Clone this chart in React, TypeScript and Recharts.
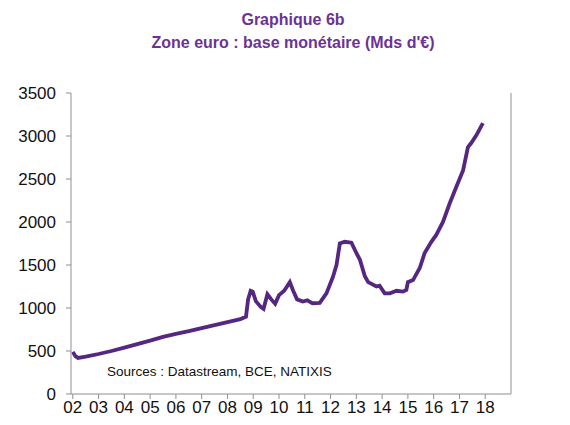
import { LineChart, Line, XAxis, YAxis } from 'recharts'

// decimal years and monetary base (Mds d'€)
const years = [
  2002.0, 2002.1, 2002.2, 2002.5, 2003.0, 2003.5, 2004.0, 2004.5, 2005.0, 2005.5,
  2006.0, 2006.5, 2007.0, 2007.5, 2008.0, 2008.5, 2008.72, 2008.8, 2008.9, 2008.98,
  2009.1, 2009.3, 2009.4, 2009.55, 2009.7, 2009.85, 2010.0, 2010.2, 2010.42, 2010.55,
  2010.7, 2010.93, 2011.1, 2011.3, 2011.58, 2011.84, 2012.09, 2012.23, 2012.36, 2012.55,
  2012.81, 2013.0, 2013.14, 2013.33, 2013.46, 2013.78, 2013.9, 2014.1, 2014.3, 2014.56,
  2014.81, 2014.94, 2015.0, 2015.2, 2015.46, 2015.65, 2015.91, 2016.1, 2016.36, 2016.62,
  2016.88, 2017.14, 2017.33, 2017.45, 2017.66, 2017.91,
]
const baseMonetaire = [
  490, 440, 420, 435, 465, 500, 540, 580, 620, 665,
  700, 730, 765, 800, 835, 870, 900, 1100, 1200, 1190,
  1080, 1010, 990, 1160, 1100, 1050, 1150, 1200, 1300, 1200,
  1100, 1075, 1090, 1055, 1060, 1170, 1360, 1500, 1750, 1770,
  1760, 1640, 1560, 1370, 1300, 1250, 1260, 1170, 1170, 1200,
  1190, 1210, 1300, 1325, 1465, 1640, 1770, 1850, 2000, 2215,
  2410, 2600, 2870, 2915, 3010, 3150,
]
const xTicks = [2002, 2003, 2004, 2005, 2006, 2007, 2008, 2009, 2010, 2011, 2012, 2013, 2014, 2015, 2016, 2017, 2018]
const yTicks = [0, 500, 1000, 1500, 2000, 2500, 3000, 3500]

const data = years.map((t, i) => ({ t, v: baseMonetaire[i] }))

const PURPLE = '#6b3396'
const LINE = '#552781'
const AXIS = '#8f8f8f'
const font = 'Liberation Sans, Arial, sans-serif'
const tickStyle = { fontSize: 17, fill: '#111', fontFamily: font }

export default function App() {
  return (
    <div style={{ position: 'relative', width: 570, height: 410, background: '#fff' }}>
      <div
        style={{
          position: 'absolute', left: 0, top: 0, width: 570, textAlign: 'center',
          color: PURPLE, fontFamily: font, fontWeight: 'bold', fontSize: 16, lineHeight: '23px',
        }}
      >
        Graphique 6b
        <br />
        Zone euro : base monétaire (Mds d'€)
      </div>
      <LineChart width={570} height={410} data={data} margin={{ top: 85, right: 12, bottom: 0, left: 0 }}>
        <XAxis
          dataKey="t"
          type="number"
          domain={[2001.93, 2019]}
          ticks={xTicks}
          interval={0}
          tickFormatter={(v: number) => String(v % 100).padStart(2, '0')}
          tick={tickStyle}
          stroke={AXIS}
          tickSize={5}
          tickMargin={2}
          height={24}
        />
        <YAxis
          yAxisId="left"
          domain={[0, 3500]}
          ticks={yTicks}
          interval={0}
          tick={tickStyle}
          stroke={AXIS}
          tickSize={5}
          tickMargin={10}
          width={63}
        />
        <YAxis
          yAxisId="right"
          orientation="right"
          domain={[0, 3500]}
          ticks={yTicks}
          interval={0}
          tick={{ ...tickStyle, textAnchor: 'start' }}
          stroke={AXIS}
          tickSize={5}
          tickMargin={9}
          width={55}
        />
        <Line
          yAxisId="left"
          dataKey="v"
          type="linear"
          stroke={LINE}
          strokeWidth={3.8}
          dot={false}
          isAnimationActive={false}
        />
      </LineChart>
      <div
        style={{
          position: 'absolute', left: 99, top: 356, color: '#111',
          fontFamily: font, fontSize: 13.5,
        }}
      >
        Sources : Datastream, BCE, NATIXIS
      </div>
    </div>
  )
}
